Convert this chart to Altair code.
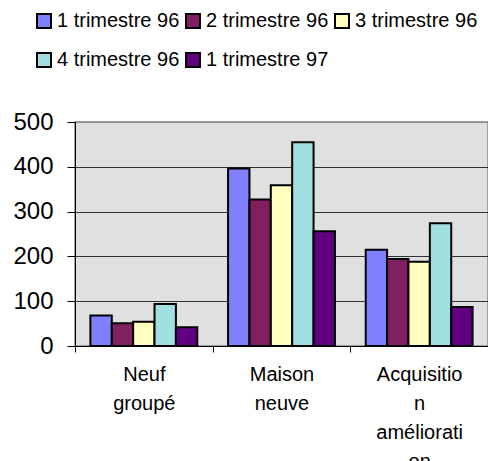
import altair as alt
import pandas as pd

categories = ["Neuf groupé", "Maison neuve", "Acquisition amélioration"]
category_lines = [["Neuf", "groupé"], ["Maison", "neuve"], ["Acquisitio", "n", "améliorati", "on"]]
series = ["1 trimestre 96", "2 trimestre 96", "3 trimestre 96", "4 trimestre 96", "1 trimestre 97"]
t1_96 = [68, 396, 215]
t2_96 = [51, 327, 194]
t3_96 = [54, 359, 188]
t4_96 = [94, 455, 274]
t1_97 = [42, 256, 87]
colors = ["#8080FF", "#802060", "#FFFFC0", "#A0E0E0", "#600080"]
y_ticks = [0, 100, 200, 300, 400, 500]

rows = []
for s, vals in zip(series, [t1_96, t2_96, t3_96, t4_96, t1_97]):
    for c, v in zip(categories, vals):
        rows.append({"categorie": c, "serie": s, "valeur": v})
df = pd.DataFrame(rows)

expr = "''"
for c, lines in reversed(list(zip(categories, category_lines))):
    arr = "[" + ",".join("'" + l + "'" for l in lines) + "]"
    expr = f"datum.value == '{c}' ? {arr} : ({expr})"

font = "Liberation Sans"

chart = alt.Chart(df).mark_bar(stroke="black", strokeWidth=2).encode(
    x=alt.X("categorie:N", sort=categories,
            scale=alt.Scale(paddingInner=0, paddingOuter=0),
            axis=alt.Axis(title=None, labelAngle=0, tickBand="extent", labelExpr=expr,
                          labelFont=font, labelFontSize=20, labelColor="black",
                          labelLineHeight=29, labelPadding=12, tickSize=6,
                          tickColor="black", domainColor="black", domainWidth=1,
                          labelLimit=0, grid=False)),
    xOffset=alt.XOffset("serie:N", sort=series,
                        scale=alt.Scale(paddingInner=0, paddingOuter=0.72)),
    y=alt.Y("valeur:Q", scale=alt.Scale(domain=[0, 500], nice=False),
            axis=alt.Axis(title=None, values=y_ticks, labelFont=font, labelFontSize=24,
                          labelColor="black", tickSize=8, tickColor="black",
                          labelPadding=14, domainColor="black", domainWidth=1,
                          grid=True,
                          gridColor=alt.ConditionalAxisColor(
                              condition={"test": "datum.value == 500", "value": "#888888"},
                              value="#303030"),
                          gridWidth=1)),
    color=alt.Color("serie:N", sort=series,
                    scale=alt.Scale(domain=series, range=colors),
                    legend=alt.Legend(title=None, orient="none", legendX=-41, legendY=-111,
                                      direction="horizontal", columns=3,
                                      symbolType="square", symbolSize=196,
                                      symbolStrokeColor="black", symbolStrokeWidth=2,
                                      symbolOpacity=1, labelFont=font, labelFontSize=20,
                                      labelColor="black", labelOffset=3,
                                      columnPadding=2, rowPadding=17, labelLimit=300)),
).properties(
    width=413, height=224,
    autosize=alt.AutoSizeParams(type="none"),
    padding={"left": 75, "top": 122, "right": 0, "bottom": 115},
).configure(
    background="white"
).configure_view(
    fill="#E0E0E0", stroke="#888888", strokeWidth=1.5
)

chart.save("out.html", embed_options={"renderer": "svg", "actions": False})
